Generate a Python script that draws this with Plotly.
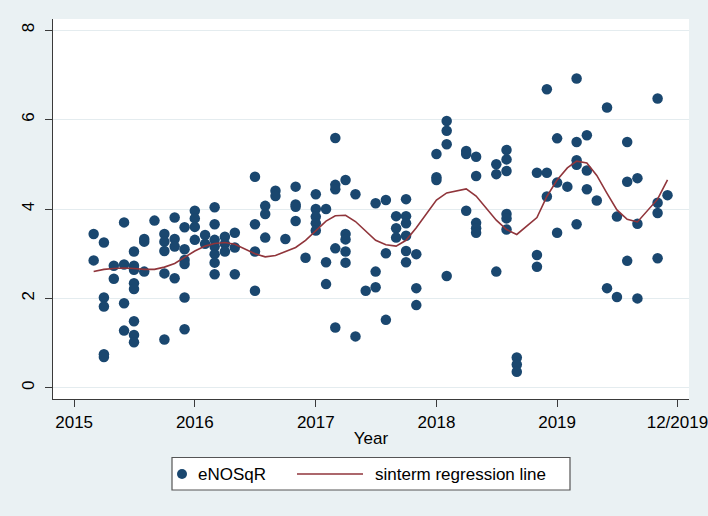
import plotly.graph_objects as go

# ---------------- data ----------------
point_months = [
    "2015-03", "2015-04", "2015-05", "2015-06", "2015-07", "2015-08", "2015-09",
    "2015-10", "2015-11", "2015-12", "2016-01", "2016-02", "2016-03", "2016-04",
    "2016-05", "2016-07", "2016-08", "2016-09", "2016-10", "2016-11", "2016-12",
    "2017-01", "2017-02", "2017-03", "2017-04", "2017-05", "2017-06", "2017-07",
    "2017-08", "2017-09", "2017-10", "2017-11", "2018-01", "2018-02", "2018-04",
    "2018-05", "2018-07", "2018-08", "2018-09", "2018-11", "2018-12", "2019-01",
    "2019-02", "2019-03", "2019-04", "2019-05", "2019-06", "2019-07", "2019-08",
    "2019-09", "2019-11", "2019-12",
]
point_values = [
    [3.44, 2.85], [3.25, 2.02, 1.82, 0.75, 0.69], [2.73, 2.44], [3.70, 2.76, 1.89, 1.28],
    [3.05, 2.73, 2.64, 2.34, 2.21, 1.49, 1.18, 1.02], [3.33, 3.27, 2.60], [3.74],
    [3.44, 3.27, 3.06, 2.56, 1.08], [3.81, 3.33, 3.16, 2.45], [3.59, 3.10, 2.86, 2.77, 2.02, 1.31],
    [3.96, 3.79, 3.60, 3.31], [3.42, 3.22], [4.04, 3.66, 3.31, 3.16, 2.99, 2.80, 2.54],
    [3.38, 3.22, 3.05], [3.47, 3.14, 2.54], [4.72, 3.66, 3.05, 2.17], [4.07, 3.89, 3.36],
    [4.41, 4.29], [3.33], [4.50, 4.10, 4.05, 3.73], [2.91],
    [4.33, 4.00, 3.83, 3.68, 3.52], [4.00, 2.81, 2.32], [5.59, 4.54, 4.44, 3.12, 1.35],
    [4.65, 3.44, 3.32, 3.05, 2.80], [4.33, 1.15], [2.17], [4.13, 2.60, 2.25],
    [4.20, 3.01, 1.52], [3.84, 3.57, 3.36], [4.22, 3.84, 3.68, 3.40, 3.06, 2.81],
    [2.99, 2.23, 1.85], [5.23, 4.71, 4.65], [5.97, 5.75, 5.45, 2.50], [5.30, 5.23, 3.96],
    [5.17, 4.74, 3.69, 3.57, 3.47], [5.00, 4.78, 2.60], [5.32, 5.11, 4.85, 3.89, 3.79, 3.54],
    [0.68, 0.52, 0.36], [4.81, 2.97, 2.71], [6.68, 4.81, 4.28], [5.58, 4.59, 3.47],
    [4.50], [6.92, 5.50, 5.09, 4.99, 3.66], [5.65, 4.86, 4.44], [4.19], [6.27, 2.23],
    [3.83, 2.03], [5.50, 4.61, 2.84], [4.69, 3.67, 2.00], [6.47, 4.14, 3.91, 2.90], [4.31],
]
fit_values = [
    2.60, 2.65, 2.67, 2.68, 2.67, 2.65, 2.65, 2.70, 2.78, 2.92, 3.06, 3.17, 3.23, 3.25,
    3.21, 3.00, 2.93, 2.96, 3.05, 3.14, 3.30, 3.52, 3.73, 3.85, 3.86, 3.72, 3.50, 3.30,
    3.20, 3.17, 3.30, 3.58, 4.20, 4.36, 4.45, 4.29, 3.75, 3.54, 3.43, 3.81, 4.28, 4.65,
    4.92, 5.07, 5.03, 4.75, 4.35, 3.98, 3.77, 3.71, 4.22, 4.65,
]
y_ticks = [0, 2, 4, 6, 8]
x_tick_dates = ["2015-01-01", "2016-01-01", "2017-01-01", "2018-01-01", "2019-01-01", "2019-12-31"]
x_tick_labels = ["2015", "2016", "2017", "2018", "2019", "12/2019"]
series_names = ["eNOSqR", "sinterm regression line"]

# ---------------- style ----------------
W, H = 708, 516
ML, MR, MT, MB = 53, 19, 19, 117
NAVY = "#1A476F"
MAROON = "#90353B"
BG = "#EAF1F3"
GRID = "#E4ECEF"
AXC = "#3a3a3a"
FONT = "Liberation Sans, Arial, Helvetica, sans-serif"
FS = 17

pw, ph = W - ML - MR, H - MT - MB


def xp(px):
    return (px - ML) / pw


def yp(py):
    return (H - MB - py) / ph


xs, ys = [], []
for m, vals in zip(point_months, point_values):
    for v in vals:
        xs.append(m)
        ys.append(v)

fig = go.Figure()
fig.add_trace(go.Scatter(
    x=xs, y=ys, mode="markers", name=series_names[0],
    marker=dict(color=NAVY, size=10.5, line=dict(width=0)),
    showlegend=False,
))
fig.add_trace(go.Scatter(
    x=point_months, y=fit_values, mode="lines", name=series_names[1],
    line=dict(color=MAROON, width=1.6),
    showlegend=False,
))

# manual Stata-style legend
leg_y = 474
shapes = [
    dict(type="rect", xref="paper", yref="paper",
         x0=xp(172), x1=xp(570), y0=yp(490), y1=yp(457.5),
         fillcolor="white", line=dict(color="#555555", width=1.2), layer="above"),
    dict(type="circle", xref="paper", yref="paper", xsizemode="pixel", ysizemode="pixel",
         xanchor=xp(182), yanchor=yp(leg_y), x0=-5, x1=5, y0=-5, y1=5,
         fillcolor=NAVY, line=dict(width=0), layer="above"),
    dict(type="line", xref="paper", yref="paper",
         x0=xp(297), x1=xp(363), y0=yp(leg_y), y1=yp(leg_y),
         line=dict(color=MAROON, width=1.6), layer="above"),
]
annotations = [
    dict(text=series_names[0], xref="paper", yref="paper", x=xp(196), y=yp(leg_y),
         xanchor="left", yanchor="middle", showarrow=False,
         font=dict(family=FONT, size=FS, color="black")),
    dict(text=series_names[1], xref="paper", yref="paper", x=xp(373), y=yp(leg_y),
         xanchor="left", yanchor="middle", showarrow=False,
         font=dict(family=FONT, size=FS, color="black")),
]

fig.update_layout(
    width=W, height=H,
    margin=dict(l=ML, r=MR, t=MT, b=MB, autoexpand=False),
    paper_bgcolor=BG, plot_bgcolor="white",
    font=dict(family=FONT, size=FS, color="black"),
    shapes=shapes, annotations=annotations,
    xaxis=dict(
        type="date", range=["2014-10-29", "2020-02-04"],
        tickmode="array", tickvals=x_tick_dates, ticktext=x_tick_labels,
        ticks="outside", ticklen=7, tickwidth=1.2, tickcolor=AXC,
        showline=True, linecolor=AXC, linewidth=1.2,
        showgrid=False, zeroline=False, ticklabeloverflow="allow",
        tickfont=dict(family=FONT, size=FS, color="black"),
        title=dict(text="Year", font=dict(family=FONT, size=FS, color="black"), standoff=1),
    ),
    yaxis=dict(
        range=[-0.25, 8.25], tickmode="array", tickvals=y_ticks,
        ticktext=[str(t) for t in y_ticks], tickangle=-90,
        ticks="outside", ticklen=7, tickwidth=1.2, tickcolor=AXC,
        showline=True, linecolor=AXC, linewidth=1.2,
        showgrid=True, gridcolor=GRID, gridwidth=1.2, zeroline=False,
        tickfont=dict(family=FONT, size=FS, color="black"),
        ticklabelstandoff=4,
    ),
)

fig.write_html(
    "out.html",
    config={"displayModeBar": False},
    post_script=(
        "document.body.style.margin='0';"
        "document.body.style.padding='0';"
        "document.body.style.background='" + BG + "';"
        "document.documentElement.style.background='" + BG + "';"
    ),
)
